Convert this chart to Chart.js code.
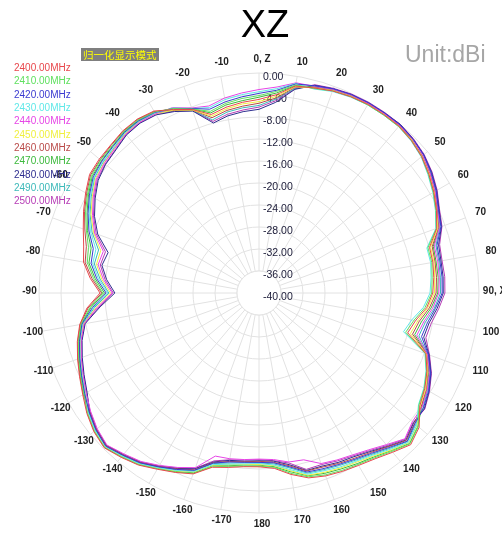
<!DOCTYPE html>
<html>
<head>
<meta charset="utf-8">
<script src="https://cdn.jsdelivr.net/npm/chart.js@4.4.1/dist/chart.umd.min.js"></script>
<style>
  html, body { margin: 0; padding: 0; background: #fff; overflow: hidden; }
  body { width: 502px; height: 533px; position: relative; font-family: Arial, "Liberation Sans", sans-serif; }
  #chart { position: absolute; left: 0; top: 0; }
  #title { position: absolute; left: 215px; top: 5px; width: 100px; text-align: center; font-size: 38px; line-height: 1; color: #000; }
  #unit { position: absolute; left: 405px; top: 41px; font-size: 23px; color: #a6a6a6; }
  #mode { position: absolute; left: 81px; top: 48px; background: #7f7f7f; color: #ffff00; font-size: 10.5px; line-height: 13px; padding: 0 2px; font-family: "Noto Sans CJK SC", sans-serif; }
  #legend { position: absolute; left: 14px; top: 61px; font-size: 10px; line-height: 13.33px; }
</style>
</head>
<body>
<canvas id="chart" width="502" height="533"></canvas>
<div id="title">XZ</div>
<div id="unit">Unit:dBi</div>
<div id="mode">归一化显示模式</div>
<div id="legend"></div>
<script>
// Data
const angles = [0,5,10,15,20,25,30,35,40,45,50,55,60,65,70,75,80,85,90,95,100,105,110,115,120,125,130,135,140,145,150,155,160,165,170,175,
  180,185,190,195,200,205,210,215,220,225,230,235,240,245,250,255,260,265,270,275,280,285,290,295,300,305,310,315,320,325,330,335,340,345,350,355];

// labels shown every 10 degrees
const angleLabels = ['0, Z','10','20','30','40','50','60','70','80','90, X','100','110','120','130','140','150','160','170',
  '180','-170','-160','-150','-140','-130','-120','-110','-100','-90','-80','-70','-60','-50','-40','-30','-20','-10'];

const radialTicks = [-40, -36, -32, -28, -24, -20, -16, -12, -8, -4, 0];

const freqNames = ['2400.00MHz','2410.00MHz','2420.00MHz','2430.00MHz','2440.00MHz','2450.00MHz',
  '2460.00MHz','2470.00MHz','2480.00MHz','2490.00MHz','2500.00MHz'];
const freqColors = ['#e8474c','#5fe05f','#3a3ad0','#5fe8e8','#e645e6','#f0f040',
  '#b94a48','#3cb93c','#2e2e8f','#3cb9b9','#b63cb6'];

const g2400 = [-4.8,-3.8,-1.8,-1.4,-0.9,-0.6,-0.4,-0.4,-0.4,-0.8,-1.4,-2.3,-3.3,-4.4,-5.6,-7.9,-7.9,-8.1,-8.4,-9.4,-11.1,-12.0,-7.7,-6.3,-5.2,-4.3,
  -2.0,-1.0,-2.2,-3.2,-3.8,-4.2,-4.6,-5.2,-6.5,-8.0,-8.4,-8.3,-7.8,-7.2,-5.0,-4.0,-3.0,-1.8,-1.0,-0.2,-0.8,-1.8,
  -3.0,-4.0,-4.9,-5.8,-6.9,-8.6,-11.1,-9.2,-7.6,-7.0,-6.0,-4.8,-3.6,-2.4,-2.1,-1.9,-1.5,-1.4,-1.8,-3.2,-4.5,-6.4,-5.7,-5.2];
const g2410 = [-4.1,-3.2,-1.6,-1.5,-0.9,-0.6,-0.5,-0.5,-0.5,-0.8,-1.4,-2.4,-3.4,-4.5,-5.7,-8.2,-8.1,-8.4,-8.6,-9.7,-11.4,-12.4,-7.8,-6.4,-5.3,-4.5,
  -2.2,-1.2,-2.4,-3.4,-4.0,-4.4,-4.8,-5.4,-6.7,-8.2,-8.5,-8.4,-8.0,-7.3,-5.1,-4.1,-3.1,-1.9,-1.1,-0.3,-0.9,-1.9,
  -3.2,-4.2,-5.1,-6.0,-7.1,-9.1,-11.6,-9.8,-8.3,-7.9,-6.6,-5.2,-4.0,-2.8,-2.4,-2.2,-1.7,-1.6,-2.0,-3.0,-4.4,-5.8,-5.0,-4.5];
const g2420 = [-3.7,-3.0,-1.4,-1.0,-0.5,-0.2,-0.1,-0.1,-0.1,-0.4,-0.9,-1.8,-2.8,-4.0,-4.8,-6.5,-6.6,-6.6,-6.7,-7.8,-8.9,-9.4,-7.2,-5.6,-4.4,-3.5,
  -3.0,-1.9,-3.3,-4.4,-5.1,-5.6,-6.0,-6.3,-7.9,-9.0,-9.2,-9.1,-8.8,-8.0,-5.7,-4.6,-3.5,-2.3,-1.5,-0.6,-1.3,-2.3,
  -3.4,-4.4,-5.3,-6.2,-7.3,-9.6,-12.2,-10.4,-9.0,-8.8,-7.1,-5.7,-4.4,-3.2,-2.7,-2.4,-1.9,-1.8,-2.1,-3.0,-4.3,-5.4,-4.7,-4.2];
const g2430 = [-3.4,-2.7,-1.3,-1.6,-1.0,-0.7,-0.5,-0.5,-0.5,-0.9,-1.5,-2.5,-3.5,-4.6,-5.8,-8.4,-8.3,-8.6,-8.9,-10.0,-11.8,-12.8,-7.9,-6.5,-5.4,-4.6,
  -2.6,-1.6,-2.9,-4.0,-4.7,-5.1,-5.6,-5.9,-7.4,-8.6,-9.0,-8.8,-8.4,-7.7,-5.5,-4.4,-3.3,-2.1,-1.3,-0.5,-1.1,-2.1,
  -3.5,-4.5,-5.4,-6.3,-7.4,-9.8,-12.5,-10.7,-9.3,-9.3,-7.4,-5.9,-4.6,-3.4,-2.9,-2.6,-2.0,-1.9,-2.2,-2.9,-4.3,-5.1,-4.3,-3.8];
const g2440 = [-3.0,-2.4,-1.2,-1.1,-0.6,-0.3,-0.2,-0.2,-0.2,-0.5,-1.1,-2.0,-3.0,-4.1,-5.1,-7.0,-7.0,-7.1,-7.3,-8.3,-9.6,-10.3,-7.4,-5.8,-4.7,-3.8,
  -3.6,-2.5,-4.0,-5.2,-6.0,-6.5,-7.0,-8.6,-8.8,-9.6,-9.8,-9.6,-9.4,-9.3,-6.2,-5.0,-3.8,-2.6,-1.8,-0.9,-1.6,-2.6,
  -3.7,-4.7,-5.6,-6.5,-7.7,-10.5,-13.3,-11.6,-10.3,-10.7,-8.2,-6.6,-5.2,-3.9,-3.3,-2.9,-2.3,-2.1,-2.4,-2.8,-4.2,-4.8,-4.0,-3.5];
const g2450 = [-5.2,-4.1,-1.9,-1.4,-0.8,-0.5,-0.4,-0.3,-0.4,-0.7,-1.3,-2.2,-3.2,-4.4,-5.4,-7.7,-7.7,-7.9,-8.1,-9.2,-10.7,-11.5,-7.6,-6.2,-5.0,-4.2,
  -2.5,-1.5,-2.7,-3.8,-4.5,-4.9,-5.3,-5.7,-7.2,-8.5,-8.8,-8.7,-8.3,-7.6,-5.4,-4.3,-3.2,-2.0,-1.2,-0.4,-1.0,-2.0,
  -3.6,-4.6,-5.5,-6.4,-7.6,-10.3,-13.0,-11.3,-10.0,-10.2,-8.0,-6.3,-5.0,-3.7,-3.2,-2.8,-2.2,-2.0,-2.4,-3.3,-4.6,-6.7,-6.0,-5.5];
const g2460 = [-5.5,-4.4,-2.0,-1.3,-0.8,-0.5,-0.3,-0.3,-0.3,-0.7,-1.2,-2.1,-3.1,-4.3,-5.3,-7.4,-7.5,-7.6,-7.8,-8.9,-10.4,-11.1,-7.5,-6.1,-4.9,-4.0,
  -3.1,-2.1,-3.5,-4.6,-5.3,-5.8,-6.3,-6.5,-8.1,-9.1,-9.4,-9.2,-8.9,-8.1,-5.8,-4.7,-3.6,-2.4,-1.6,-0.7,-1.4,-2.4,
  -3.1,-4.1,-5.0,-5.9,-7.0,-8.8,-11.4,-9.5,-7.9,-7.5,-6.3,-5.0,-3.8,-2.6,-2.3,-2.0,-1.6,-1.5,-1.9,-3.4,-4.6,-7.0,-6.3,-5.9];
const g2470 = [-4.4,-3.5,-1.7,-1.2,-0.7,-0.4,-0.2,-0.3,-0.2,-0.6,-1.2,-2.0,-3.1,-4.2,-5.2,-7.2,-7.3,-7.3,-7.5,-8.6,-10.0,-10.7,-7.4,-5.9,-4.8,-3.9,
  -2.3,-1.3,-2.6,-3.6,-4.2,-4.7,-5.1,-5.6,-7.0,-8.3,-8.7,-8.6,-8.1,-7.5,-5.2,-4.2,-3.2,-2.0,-1.2,-0.3,-1.0,-2.0,
  -3.3,-4.3,-5.2,-6.1,-7.2,-9.3,-11.9,-10.1,-8.6,-8.4,-6.8,-5.5,-4.2,-3.0,-2.6,-2.3,-1.8,-1.7,-2.0,-3.1,-4.4,-6.1,-5.3,-4.9];
const g2480 = [-6.6,-5.2,-2.4,-0.9,-0.5,-0.2,-0.1,-0.1,0.0,-0.4,-0.9,-1.7,-2.7,-3.9,-4.7,-6.2,-6.4,-6.4,-6.5,-7.5,-8.6,-9.0,-7.1,-5.5,-4.3,-3.3,
  -3.3,-2.2,-3.6,-4.8,-5.6,-6.0,-6.5,-6.6,-8.3,-9.3,-9.5,-9.3,-9.1,-8.2,-6.0,-4.8,-3.6,-2.4,-1.6,-0.8,-1.4,-2.4,
  -3.9,-4.9,-5.8,-6.7,-7.9,-11.0,-13.8,-12.2,-11.0,-11.6,-8.8,-7.0,-5.6,-4.3,-3.6,-3.2,-2.5,-2.3,-2.6,-3.6,-4.8,-8.0,-7.3,-6.9];
const g2490 = [-5.9,-4.6,-2.2,-1.0,-0.6,-0.3,-0.2,-0.1,-0.2,-0.5,-1.0,-1.9,-2.9,-4.0,-5.0,-6.7,-6.8,-6.9,-7.0,-8.0,-9.3,-9.9,-7.3,-5.7,-4.6,-3.6,
  -2.8,-1.8,-3.1,-4.2,-4.9,-5.4,-5.8,-6.1,-7.7,-8.8,-9.1,-9.0,-8.6,-7.9,-5.6,-4.5,-3.4,-2.2,-1.4,-0.6,-1.2,-2.2,
  -3.5,-4.5,-5.4,-6.3,-7.5,-10.0,-12.7,-11.0,-9.6,-9.8,-7.7,-6.1,-4.8,-3.5,-3.0,-2.7,-2.1,-1.9,-2.3,-3.4,-4.7,-7.4,-6.6,-6.2];
const g2500 = [-6.2,-4.9,-2.3,-0.8,-0.4,-0.1,0.0,0.0,0.0,-0.3,-0.8,-1.6,-2.6,-3.8,-4.6,-6.0,-6.2,-6.1,-6.2,-7.2,-8.2,-8.6,-7.0,-5.4,-4.2,-3.2,
  -3.4,-2.4,-3.8,-5.0,-5.8,-6.3,-6.8,-6.8,-8.6,-9.4,-9.7,-9.5,-9.2,-8.4,-6.1,-4.9,-3.7,-2.5,-1.7,-0.8,-1.5,-2.5,
  -3.8,-4.8,-5.7,-6.6,-7.8,-10.8,-13.5,-11.9,-10.7,-11.1,-8.5,-6.8,-5.4,-4.1,-3.5,-3.1,-2.4,-2.2,-2.5,-3.5,-4.7,-7.7,-7.0,-6.6];

const seriesValues = [g2400, g2410, g2420, g2430, g2440, g2450, g2460, g2470, g2480, g2490, g2500];

// Legend
const legendBox = document.getElementById('legend');
freqNames.forEach((name, i) => {
    const d = document.createElement('div');
    d.textContent = name;
    d.style.color = freqColors[i];
    legendBox.appendChild(d);
});

const gridColor = '#e2e2e2';

// white hole in the middle + value labels on the vertical axis
const centerPlugin = {
    id: 'centerPlugin',
    beforeDatasetsDraw(chart) {
        const s = chart.scales.r;
        const ctx = chart.ctx;
        const r0 = s.getDistanceFromCenterForValue(radialTicks[1]);
        ctx.save();
        ctx.beginPath();
        ctx.arc(s.xCenter, s.yCenter, r0, 0, Math.PI * 2);
        ctx.fillStyle = '#fff';
        ctx.fill();
        ctx.strokeStyle = gridColor;
        ctx.lineWidth = 1;
        ctx.stroke();
        ctx.font = '10.5px Arial';
        ctx.fillStyle = '#20203c';
        ctx.textAlign = 'left';
        ctx.textBaseline = 'middle';
        radialTicks.forEach(v => {
            const y = s.yCenter - s.getDistanceFromCenterForValue(v);
            ctx.fillText(v.toFixed(2), s.xCenter + 4, y + 4);
        });

        // angle labels, centred just outside the outer ring
        ctx.font = 'bold 10px Arial';
        ctx.fillStyle = '#222';
        ctx.textAlign = 'center';
        angleLabels.forEach((txt, i) => {
            const p = s.getPointPosition(i * 2, s.drawingArea + 12.5);
            ctx.fillText(txt, p.x + 3, p.y - 1.5);
        });
        ctx.restore();
    }
};

const datasets = seriesValues.map((vals, i) => ({
    label: freqNames[i],
    data: vals,
    borderColor: freqColors[i],
    backgroundColor: 'transparent',
    borderWidth: 1,
    pointRadius: 0,
    fill: false,
    tension: 0
}));

new Chart(document.getElementById('chart').getContext('2d'), {
    type: 'radar',
    data: { labels: angles, datasets: datasets },
    options: {
        responsive: false,
        animation: false,
        layout: { padding: { left: 39, right: 23, top: 73, bottom: 20 } },
        plugins: { legend: { display: false }, tooltip: { enabled: false } },
        scales: {
            r: {
                min: -40,
                max: 0,
                ticks: { stepSize: 4, display: false },
                grid: { circular: true, color: gridColor },
                angleLines: {
                    color: ctx => (ctx.index % 2 === 0 ? gridColor : 'rgba(0,0,0,0)'),
                    lineWidth: ctx => (ctx.index % 2 === 0 ? 1 : 0)
                },
                pointLabels: { display: false }
            }
        }
    },
    plugins: [centerPlugin]
});
</script>
</body>
</html>
